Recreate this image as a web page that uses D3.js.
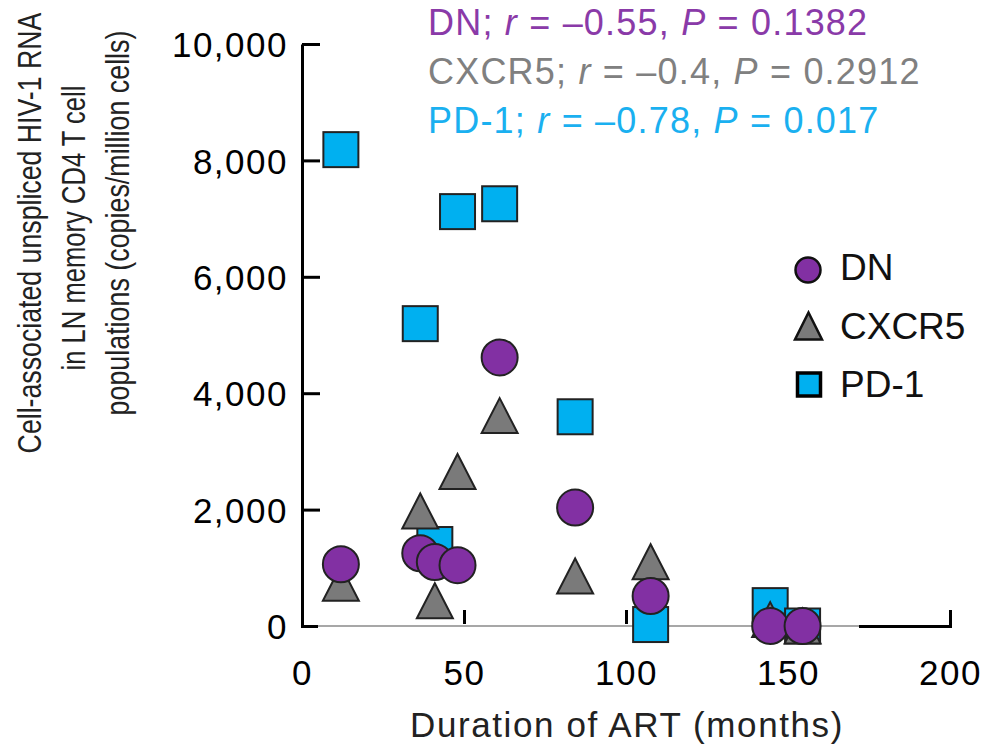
<!DOCTYPE html>
<html>
<head>
<meta charset="utf-8">
<script src="https://cdn.jsdelivr.net/npm/d3@7"></script>
<style>
body { margin: 0; background: #fff; }
text { font-family: "Liberation Sans", Arial, Helvetica, sans-serif; }
</style>
</head>
<body>
<script>
// duration of ART (months), one entry per patient
var months = [12, 36.5, 41, 48, 61, 84.3, 107.6, 144.5, 154.5];
// copies / million cells
var dnValues = [1060, 1250, 1100, 1045, 4615, 2035, 515, 0, 0];
var cxcr5Values = [735, 1975, 435, 2655, 3615, 860, 1105, 110, 0];
var pd1Values = [8185, 5195, 1400, 7120, 7255, 3595, 25, 350, 0];

var xTicks = [0, 50, 100, 150, 200];
var yTicks = [0, 2000, 4000, 6000, 8000, 10000];

var groups = ["DN", "CXCR5", "PD-1"];
var rValues = ["\u20130.55", "\u20130.4", "\u20130.78"];
var pValues = ["0.1382", "0.2912", "0.017"];
var colors = { "DN": "#8230a3", "CXCR5": "#7a7a7a", "PD-1": "#00b0f0" };
var textColors = { "DN": "#8a3aa8", "CXCR5": "#808080", "PD-1": "#1ab0f0" };

var svg = d3.select("body").append("svg")
	.attr("width", 987)
	.attr("height", 749);

var x = d3.scaleLinear().domain([0, 200]).range([302, 950]);
var y = d3.scaleLinear().domain([0, 10000]).range([626, 44]);

// y axis, ticks pointing inward
var yAxis = svg.append("g")
	.attr("transform", "translate(" + x(0) + ",0)")
	.call(d3.axisLeft(y).tickValues(yTicks).tickSizeInner(-18).tickSizeOuter(0).tickPadding(14)
		.tickFormat(d3.format(",")));
yAxis.selectAll("path, line").attr("stroke", "#000").attr("stroke-width", 3);
yAxis.selectAll("text")
	.attr("font-size", 35)
	.attr("letter-spacing", 1.5)
	.attr("fill", "#000")
	.attr("dy", "0.36em");

// x axis
var xAxis = svg.append("g")
	.attr("transform", "translate(0," + y(0) + ")")
	.call(d3.axisBottom(x).tickValues(xTicks).tickSizeInner(-16).tickSizeOuter(-16).tickPadding(34));
xAxis.selectAll("path, line").attr("stroke", "#000").attr("stroke-width", 3);
xAxis.selectAll("text")
	.attr("font-size", 35)
	.attr("letter-spacing", 1.5)
	.attr("fill", "#000");

// the thin grey piece of the baseline
svg.append("line")
	.attr("x1", 318).attr("x2", 859)
	.attr("y1", y(0)).attr("y2", y(0))
	.attr("stroke", "#fff").attr("stroke-width", 4);
svg.append("line")
	.attr("x1", 318).attr("x2", 859)
	.attr("y1", y(0)).attr("y2", y(0))
	.attr("stroke", "#8a8a8a").attr("stroke-width", 1.6);

function triPath(cx, cy, w, h) {
	return "M" + cx + "," + (cy - h / 2) + "L" + (cx + w / 2) + "," + (cy + h / 2) +
		"L" + (cx - w / 2) + "," + (cy + h / 2) + "Z";
}

// PD-1 squares
svg.selectAll("rect.pd1")
	.data(pd1Values)
	.enter().append("rect")
		.attr("class", "pd1")
		.attr("x", function(d, i) { return x(months[i]) - 17.5; })
		.attr("y", function(d, i) { return y(d) - 17.5; })
		.attr("width", 35)
		.attr("height", 35)
		.attr("fill", colors["PD-1"])
		.attr("stroke", "#222")
		.attr("stroke-width", 2);

// CXCR5 triangles
svg.selectAll("path.cxcr5")
	.data(cxcr5Values)
	.enter().append("path")
		.attr("class", "cxcr5")
		.attr("d", function(d, i) { return triPath(x(months[i]), y(d), 36, 35); })
		.attr("fill", colors["CXCR5"])
		.attr("stroke", "#222")
		.attr("stroke-width", 2);

// DN circles
svg.selectAll("circle.dn")
	.data(dnValues)
	.enter().append("circle")
		.attr("class", "dn")
		.attr("cx", function(d, i) { return x(months[i]); })
		.attr("cy", function(d) { return y(d); })
		.attr("r", 18)
		.attr("fill", colors["DN"])
		.attr("stroke", "#222")
		.attr("stroke-width", 2);

// correlation text at the top
var stat = svg.selectAll("text.stat")
	.data(groups)
	.enter().append("text")
		.attr("class", "stat")
		.attr("x", 428)
		.attr("y", function(d, i) { return 35 + i * 49; })
		.attr("font-size", 36)
		.attr("letter-spacing", 1.2)
		.attr("fill", function(d) { return textColors[d]; });
stat.append("tspan").text(function(d) { return d + "; "; });
stat.append("tspan").attr("font-style", "italic").text("r");
stat.append("tspan").text(function(d, i) { return " = " + rValues[i] + ", "; });
stat.append("tspan").attr("font-style", "italic").text("P");
stat.append("tspan").text(function(d, i) { return " = " + pValues[i]; });

// legend
var legend = svg.append("g");
legend.append("circle")
	.attr("cx", 808).attr("cy", 270).attr("r", 12.5)
	.attr("fill", colors["DN"]).attr("stroke", "#111").attr("stroke-width", 2.5);
legend.append("path")
	.attr("d", triPath(808.5, 326, 27, 27))
	.attr("fill", colors["CXCR5"]).attr("stroke", "#111").attr("stroke-width", 2.5);
legend.append("rect")
	.attr("x", 797.5).attr("y", 373).attr("width", 23).attr("height", 23)
	.attr("fill", colors["PD-1"]).attr("stroke", "#000").attr("stroke-width", 3.5);
legend.selectAll("text")
	.data(groups)
	.enter().append("text")
		.attr("x", 840)
		.attr("y", function(d, i) { return 280 + i * 58.5; })
		.attr("font-size", 37)
		.attr("fill", "#111")
		.text(function(d) { return d; });

// axis titles
svg.append("text")
	.attr("x", 627)
	.attr("y", 737)
	.attr("text-anchor", "middle")
	.attr("font-size", 35)
	.attr("letter-spacing", 1.6)
	.attr("fill", "#222")
	.text("Duration of ART (months)");

// y label is narrower than the font, so squeeze it along the line
var yLabel = ["Cell-associated unspliced HIV-1 RNA", "in LN memory CD4 T cell", "populations (copies/million cells)"];
var yLabelLength = [441, 285, 385];
var ylab = svg.selectAll("g.ylab")
	.data(yLabel)
	.enter().append("g")
		.attr("class", "ylab")
		.attr("transform", function(d, i) { return "translate(" + (41 + i * 44) + "," + (233 - i * 5) + ") rotate(-90)"; });
ylab.append("text")
	.attr("text-anchor", "middle")
	.attr("font-size", 34)
	.attr("fill", "#222")
	.text(function(d) { return d; })
	.attr("transform", function(d, i) {
		var w = this.getComputedTextLength();
		return "scale(" + (yLabelLength[i] / w) + ",1)";
	});
</script>
</body>
</html>
